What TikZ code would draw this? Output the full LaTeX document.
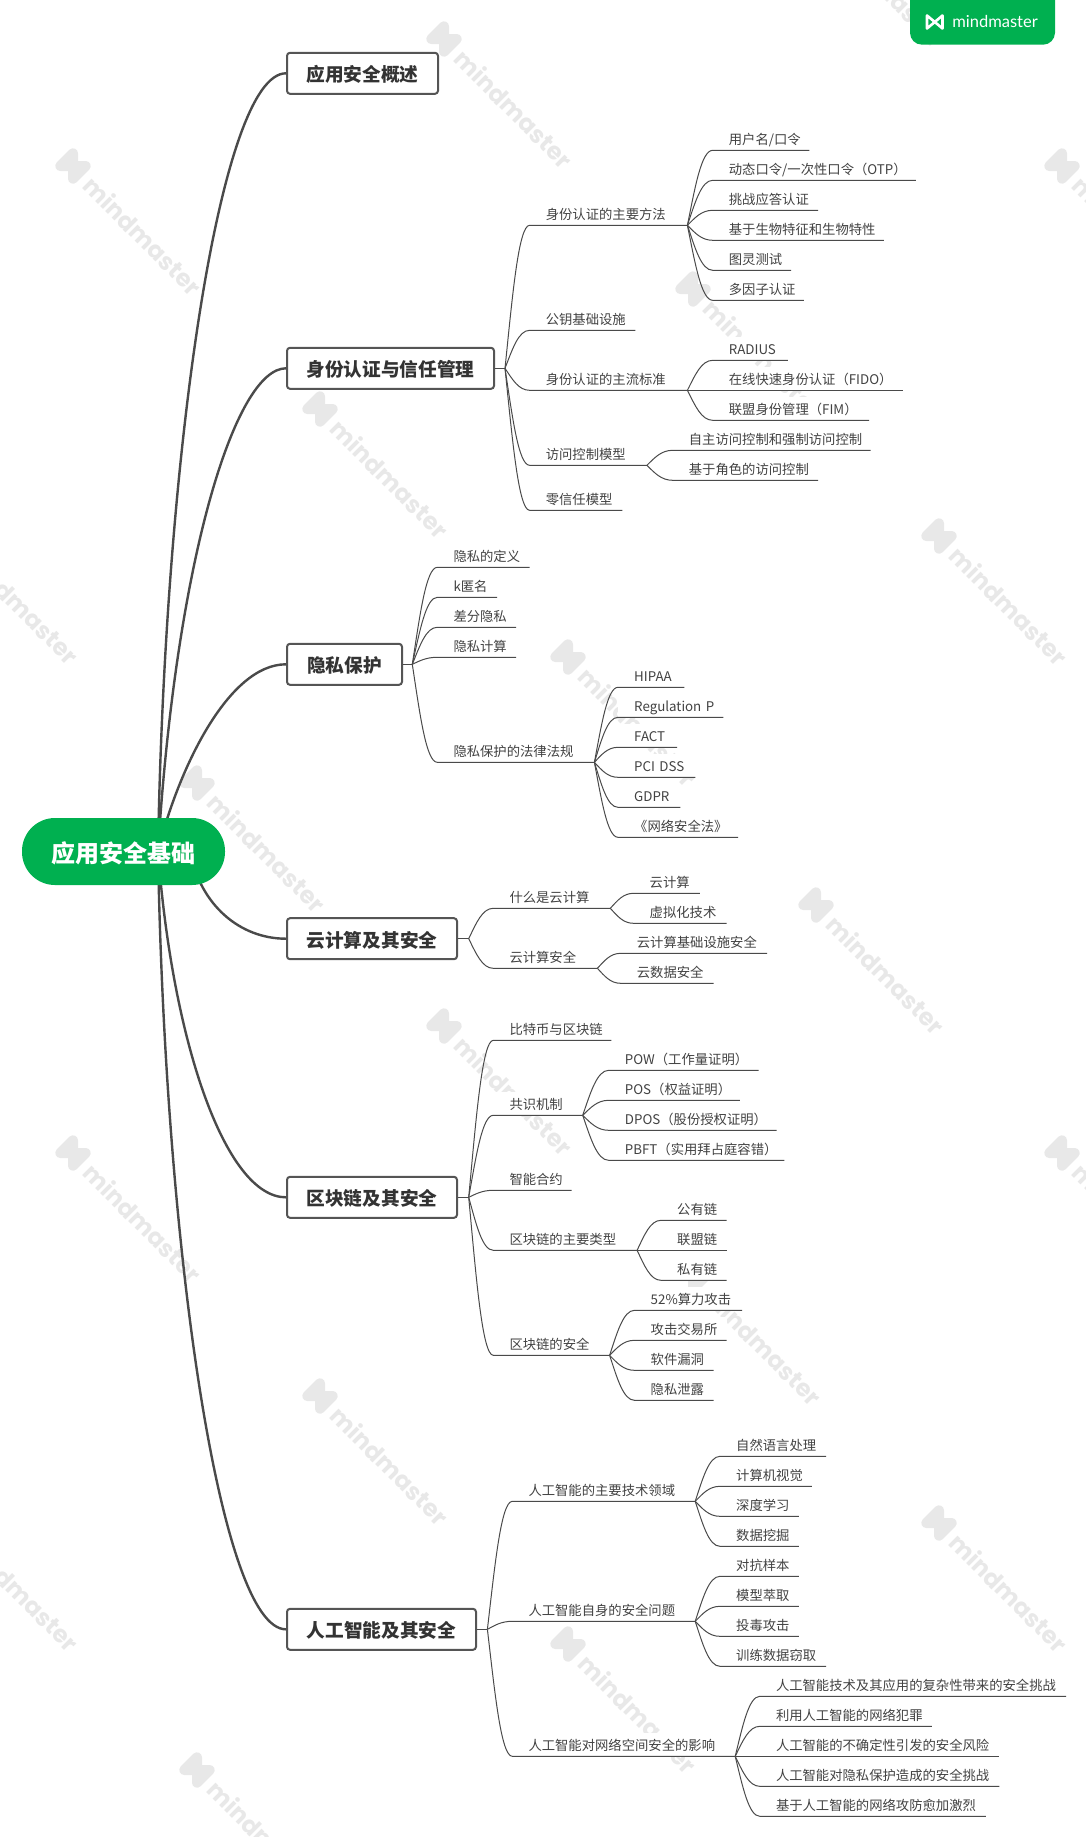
\documentclass[tikz,border=0pt]{standalone}
\usepackage{fontspec}
\setmainfont{Noto Sans CJK SC}
\newfontfamily\logofont{Lato}
\newfontfamily\markfont{Poppins}
\usetikzlibrary{calc}
\definecolor{brandgreen}{RGB}{0,176,80}
\definecolor{inkgray}{RGB}{51,51,51}
\definecolor{itemgray}{RGB}{66,66,66}
\definecolor{linegray}{RGB}{74,74,74}
\definecolor{boxgray}{RGB}{85,85,85}
\definecolor{markgray}{RGB}{232,232,232}
\tikzset{
	hubnode/.style={fill=brandgreen,rounded corners=33pt,minimum width=203pt,minimum height=67pt,inner sep=0pt,text=white,text height=25.6pt,text depth=2.9pt,font=\fontsize{24pt}{28pt}\selectfont\bfseries},
	topicnode/.style={draw=boxgray,line width=2pt,fill=white,rounded corners=3pt,minimum height=41pt,inner sep=0pt,text=inkgray,text height=18.8pt,text depth=2.2pt,font=\fontsize{18.67pt}{22pt}\selectfont\bfseries},
	itemnode/.style={anchor=south west,fill=white,inner sep=0pt,text height=17pt,text depth=6pt,align=left,text=itemgray,font=\fontsize{13.33pt}{16pt}\selectfont,execute at begin node={\hspace*{16pt}}},
	limb/.style={draw=linegray,line width=2.4pt},
	twig/.style={draw=linegray,line width=1pt},
	sprout/.style={to path={let \p1=(\tikztostart),\p2=(\tikztotarget) in .. controls ({\x1+0.3*(\x2-\x1)},{\y1+0.5*(\y2-\y1)}) and ({\x1+0.55*(\x2-\x1)},\y2) .. (\tikztotarget)}},
	wmk/.pic={
		\draw[markgray,line width=10pt,line join=round,line cap=round,rotate=-45] (-9,-9) -- (-9,9) -- (9,-9) -- (9,9) -- cycle;
		\node[rotate=-45,text=markgray,inner sep=0pt,font=\markfont\fontsize{24pt}{30pt}\selectfont\bfseries] (-t) at (70,70) {mindmaster};
	},
}
\begin{document}
\begin{tikzpicture}[x=1pt,y=-1pt]
	\useasboundingbox (0,0) rectangle (1086,1837);
	% watermark
	\pic (wa) at (73,166) {wmk};
	\pic (wb) at (444,39) {wmk};
	\pic (wc) at (1062,166) {wmk};
	\pic (wd) at (693,289) {wmk};
	\pic (we) at (320,409) {wmk};
	\pic (wf) at (939,536) {wmk};
	\pic (wg) at (-50,535) {wmk};
	\pic (wh) at (568,657) {wmk};
	\pic (wi) at (197,783) {wmk};
	\pic (wj) at (816,905) {wmk};
	\pic (wk) at (444,1026) {wmk};
	\pic (wl) at (73,1153) {wmk};
	\pic (wm) at (1062,1153) {wmk};
	\pic (wn) at (693,1276) {wmk};
	\pic (wo) at (320,1396) {wmk};
	\pic (wp) at (939,1523) {wmk};
	\pic (wq) at (-50,1522) {wmk};
	\pic (wr) at (568,1644) {wmk};
	\pic (ws) at (197,1770) {wmk};
	\pic (wt) at (816,-82) {wmk};
	% logo tab
	\fill[brandgreen,rounded corners=12pt] (910,-20) rectangle (1055,44.7);
	\draw[white,line width=2.6pt,line join=round] (927,15.5) -- (927,28.5) -- (942.5,15.5) -- (942.5,28.5) -- cycle;
	\node[text=white,inner sep=0pt,font=\logofont\fontsize{16.5pt}{18pt}\selectfont] (logo) at (995,21) {mindmaster};
	% first level
	\coordinate (hub) at (158,851);
	\coordinate (hubr) at (190,851);
	\node[topicnode,minimum width=151pt] (overview) at (362.5,73.3) {应用安全概述};
	\node[topicnode,minimum width=207pt] (identity) at (390.5,368.3) {身份认证与信任管理};
	\node[topicnode,minimum width=115pt] (privacy) at (344.5,664.3) {隐私保护};
	\node[topicnode,minimum width=170pt] (cloud) at (372,938.7) {云计算及其安全};
	\node[topicnode,minimum width=170pt] (chain) at (372,1197.3) {区块链及其安全};
	\node[topicnode,minimum width=189pt] (smart) at (381.5,1629.3) {人工智能及其安全};
	\coordinate (jid) at (505,368.3);
	\coordinate (jpr) at (412.3,664.3);
	\coordinate (jcl) at (468.7,938.7);
	\coordinate (jch) at (468.7,1197.3);
	\coordinate (jsm) at (487.4,1629.3);
	% identity
	\node[itemnode,text width=157.4pt] (idmeth) at (529.6,225.3) {身份认证的主要方法};
	\node[itemnode,text width=105.4pt] (idpki) at (529.6,330.3) {公钥基础设施};
	\node[itemnode,text width=157.4pt] (idstd) at (529.6,390.3) {身份认证的主流标准};
	\node[itemnode,text width=116.9pt] (idacl) at (529.6,465.3) {访问控制模型};
	\node[itemnode,text width=92.4pt] (idztr) at (529.6,510.3) {零信任模型};
	\node[itemnode,text width=96.3pt] (ma) at (712.7,150.3) {用户名/口令};
	\node[itemnode,text width=202.8pt] (mb) at (712.7,180.3) {动态口令/一次性口令（OTP）};
	\node[itemnode,text width=104.9pt] (mc) at (712.7,210.3) {挑战应答认证};
	\node[itemnode,text width=170.7pt] (md) at (712.7,240.3) {基于生物特征和生物特性};
	\node[itemnode,text width=78pt] (me) at (712.7,270.3) {图灵测试};
	\node[itemnode,text width=90.7pt] (mf) at (712.7,300.3) {多因子认证};
	\node[itemnode,text width=74.7pt] (sa) at (712.7,360.3) {RADIUS};
	\node[itemnode,text width=189.8pt] (sb) at (712.7,390.3) {在线快速身份认证（FIDO）};
	\node[itemnode,text width=156.1pt] (sc) at (712.7,420.3) {联盟身份管理（FIM）};
	\node[itemnode,text width=197.6pt] (aa) at (672.7,450.3) {自主访问控制和强制访问控制};
	\node[itemnode,text width=144.9pt] (ab) at (672.7,480.3) {基于角色的访问控制};
	% privacy
	\node[itemnode,text width=92pt] (prdef) at (437.3,567.3) {隐私的定义};
	\node[itemnode,text width=59.4pt] (prk) at (437.3,597.3) {k匿名};
	\node[itemnode,text width=78.4pt] (prdiff) at (437.3,627.3) {差分隐私};
	\node[itemnode,text width=78.4pt] (prcomp) at (437.3,657.3) {隐私计算};
	\node[itemnode,text width=156.7pt] (prlaw) at (437.3,762.3) {隐私保护的法律法规};
	\node[itemnode,text width=66pt] (la) at (618,687.3) {HIPAA};
	\node[itemnode,text width=105pt] (lb) at (618,717.3) {Regulation P};
	\node[itemnode,text width=58.7pt] (lc) at (618,747.3) {FACT};
	\node[itemnode,text width=77pt] (ld) at (618,777.3) {PCI DSS};
	\node[itemnode,text width=62pt] (le) at (618,807.3) {GDPR};
	\node[itemnode,text width=119.7pt] (lf) at (618,837.3) {《网络安全法》};
	% cloud
	\node[itemnode,text width=116.6pt] (clwhat) at (493.3,908.3) {什么是云计算};
	\node[itemnode,text width=103.7pt] (clsec) at (493.3,968.3) {云计算安全};
	\node[itemnode,text width=65.9pt] (wa1) at (633.5,893.3) {云计算};
	\node[itemnode,text width=92.8pt] (wa2) at (633.5,923.3) {虚拟化技术};
	\node[itemnode,text width=145.9pt] (sa1) at (620.7,953.3) {云计算基础设施安全};
	\node[itemnode,text width=92.5pt] (sa2) at (620.7,983.3) {云数据安全};
	% chain
	\node[itemnode,text width=117.7pt] (chbtc) at (493.3,1040.3) {比特币与区块链};
	\node[itemnode,text width=89pt] (chcon) at (493.3,1115.3) {共识机制};
	\node[itemnode,text width=78pt] (chsc) at (493.3,1190.3) {智能合约};
	\node[itemnode,text width=143.4pt] (chtype) at (493.3,1250.3) {区块链的主要类型};
	\node[itemnode,text width=115.9pt] (chsec) at (493.3,1355.3) {区块链的安全};
	\node[itemnode,text width=149.6pt] (ca) at (608.7,1070.3) {POW（工作量证明）};
	\node[itemnode,text width=130.7pt] (cb) at (608.7,1100.3) {POS（权益证明）};
	\node[itemnode,text width=167.5pt] (cc) at (608.7,1130.3) {DPOS（股份授权证明）};
	\node[itemnode,text width=175.3pt] (cd) at (608.7,1160.3) {PBFT（实用拜占庭容错）};
	\node[itemnode,text width=65.3pt] (ta) at (661,1220.3) {公有链};
	\node[itemnode,text width=65.3pt] (tb) at (661,1250.3) {联盟链};
	\node[itemnode,text width=65.3pt] (tc) at (661,1280.3) {私有链};
	\node[itemnode,text width=107.3pt] (ha) at (634.5,1310.3) {52\%算力攻击};
	\node[itemnode,text width=91.8pt] (hb) at (634.5,1340.3) {攻击交易所};
	\node[itemnode,text width=78.7pt] (hc) at (634.5,1370.3) {软件漏洞};
	\node[itemnode,text width=78.7pt] (hd) at (634.5,1400.3) {隐私泄露};
	% smart
	\node[itemnode,text width=182.5pt] (aitech) at (512.3,1501.3) {人工智能的主要技术领域};
	\node[itemnode,text width=182.5pt] (aiself) at (512.3,1621.3) {人工智能自身的安全问题};
	\node[itemnode,text width=222.5pt] (aiimp) at (512.3,1756.3) {人工智能对网络空间安全的影响};
	\node[itemnode,text width=105.7pt] (ea) at (720,1456.3) {自然语言处理};
	\node[itemnode,text width=91.5pt] (eb) at (720,1486.3) {计算机视觉};
	\node[itemnode,text width=78.5pt] (ec) at (720,1516.3) {深度学习};
	\node[itemnode,text width=78.5pt] (ed) at (720,1546.3) {数据挖掘};
	\node[itemnode,text width=78.5pt] (fa) at (720,1576.3) {对抗样本};
	\node[itemnode,text width=78.5pt] (fb) at (720,1606.3) {模型萃取};
	\node[itemnode,text width=78.5pt] (fc) at (720,1636.3) {投毒攻击};
	\node[itemnode,text width=105.7pt] (fd) at (720,1666.3) {训练数据窃取};
	\node[itemnode,text width=306pt] (ga) at (759.8,1696.3) {人工智能技术及其应用的复杂性带来的安全挑战};
	\node[itemnode,text width=171.7pt] (gb) at (759.8,1726.3) {利用人工智能的网络犯罪};
	\node[itemnode,text width=239.1pt] (gc) at (759.8,1756.3) {人工智能的不确定性引发的安全风险};
	\node[itemnode,text width=239.1pt] (gd) at (759.8,1786.3) {人工智能对隐私保护造成的安全挑战};
	\node[itemnode,text width=225.7pt] (ge) at (759.8,1816.3) {基于人工智能的网络攻防愈加激烈};
	% limbs
	\draw[limb] (hub) .. controls (165,450) and (220,73.3) .. (overview.west);
	\draw[limb] (hub) .. controls (176,560) and (235,368.3) .. (identity.west);
	\draw[limb] (hub) .. controls (178,770) and (228,664.3) .. (privacy.west);
	\draw[limb] (hubr) .. controls (200,905) and (240,938.7) .. (cloud.west);
	\draw[limb] (hub) .. controls (172,1040) and (225,1197.3) .. (chain.west);
	\draw[limb] (hub) .. controls (165,1250) and (220,1629.3) .. (smart.west);
	\draw[twig] (identity.east) -- (jid);
	\draw[twig] (privacy.east) -- (jpr);
	\draw[twig] (cloud.east) -- (jcl);
	\draw[twig] (chain.east) -- (jch);
	\draw[twig] (smart.east) -- (jsm);
	% twigs
	\draw[twig] (jid) to[sprout] (idmeth.south west) -- (idmeth.south east);
	\draw[twig] (jid) to[sprout] (idpki.south west) -- (idpki.south east);
	\draw[twig] (jid) to[sprout] (idstd.south west) -- (idstd.south east);
	\draw[twig] (jid) to[sprout] (idacl.south west) -- (idacl.south east);
	\draw[twig] (jid) to[sprout] (idztr.south west) -- (idztr.south east);
	\draw[twig] (idmeth.south east) to[sprout] (ma.south west) -- (ma.south east);
	\draw[twig] (idmeth.south east) to[sprout] (mb.south west) -- (mb.south east);
	\draw[twig] (idmeth.south east) to[sprout] (mc.south west) -- (mc.south east);
	\draw[twig] (idmeth.south east) to[sprout] (md.south west) -- (md.south east);
	\draw[twig] (idmeth.south east) to[sprout] (me.south west) -- (me.south east);
	\draw[twig] (idmeth.south east) to[sprout] (mf.south west) -- (mf.south east);
	\draw[twig] (idstd.south east) to[sprout] (sa.south west) -- (sa.south east);
	\draw[twig] (idstd.south east) to[sprout] (sb.south west) -- (sb.south east);
	\draw[twig] (idstd.south east) to[sprout] (sc.south west) -- (sc.south east);
	\draw[twig] (idacl.south east) to[sprout] (aa.south west) -- (aa.south east);
	\draw[twig] (idacl.south east) to[sprout] (ab.south west) -- (ab.south east);
	\draw[twig] (jpr) to[sprout] (prdef.south west) -- (prdef.south east);
	\draw[twig] (jpr) to[sprout] (prk.south west) -- (prk.south east);
	\draw[twig] (jpr) to[sprout] (prdiff.south west) -- (prdiff.south east);
	\draw[twig] (jpr) to[sprout] (prcomp.south west) -- (prcomp.south east);
	\draw[twig] (jpr) to[sprout] (prlaw.south west) -- (prlaw.south east);
	\draw[twig] (prlaw.south east) to[sprout] (la.south west) -- (la.south east);
	\draw[twig] (prlaw.south east) to[sprout] (lb.south west) -- (lb.south east);
	\draw[twig] (prlaw.south east) to[sprout] (lc.south west) -- (lc.south east);
	\draw[twig] (prlaw.south east) to[sprout] (ld.south west) -- (ld.south east);
	\draw[twig] (prlaw.south east) to[sprout] (le.south west) -- (le.south east);
	\draw[twig] (prlaw.south east) to[sprout] (lf.south west) -- (lf.south east);
	\draw[twig] (jcl) to[sprout] (clwhat.south west) -- (clwhat.south east);
	\draw[twig] (jcl) to[sprout] (clsec.south west) -- (clsec.south east);
	\draw[twig] (clwhat.south east) to[sprout] (wa1.south west) -- (wa1.south east);
	\draw[twig] (clwhat.south east) to[sprout] (wa2.south west) -- (wa2.south east);
	\draw[twig] (clsec.south east) to[sprout] (sa1.south west) -- (sa1.south east);
	\draw[twig] (clsec.south east) to[sprout] (sa2.south west) -- (sa2.south east);
	\draw[twig] (jch) to[sprout] (chbtc.south west) -- (chbtc.south east);
	\draw[twig] (jch) to[sprout] (chcon.south west) -- (chcon.south east);
	\draw[twig] (jch) to[sprout] (chsc.south west) -- (chsc.south east);
	\draw[twig] (jch) to[sprout] (chtype.south west) -- (chtype.south east);
	\draw[twig] (jch) to[sprout] (chsec.south west) -- (chsec.south east);
	\draw[twig] (chcon.south east) to[sprout] (ca.south west) -- (ca.south east);
	\draw[twig] (chcon.south east) to[sprout] (cb.south west) -- (cb.south east);
	\draw[twig] (chcon.south east) to[sprout] (cc.south west) -- (cc.south east);
	\draw[twig] (chcon.south east) to[sprout] (cd.south west) -- (cd.south east);
	\draw[twig] (chtype.south east) to[sprout] (ta.south west) -- (ta.south east);
	\draw[twig] (chtype.south east) to[sprout] (tb.south west) -- (tb.south east);
	\draw[twig] (chtype.south east) to[sprout] (tc.south west) -- (tc.south east);
	\draw[twig] (chsec.south east) to[sprout] (ha.south west) -- (ha.south east);
	\draw[twig] (chsec.south east) to[sprout] (hb.south west) -- (hb.south east);
	\draw[twig] (chsec.south east) to[sprout] (hc.south west) -- (hc.south east);
	\draw[twig] (chsec.south east) to[sprout] (hd.south west) -- (hd.south east);
	\draw[twig] (jsm) to[sprout] (aitech.south west) -- (aitech.south east);
	\draw[twig] (jsm) to[sprout] (aiself.south west) -- (aiself.south east);
	\draw[twig] (jsm) to[sprout] (aiimp.south west) -- (aiimp.south east);
	\draw[twig] (aitech.south east) to[sprout] (ea.south west) -- (ea.south east);
	\draw[twig] (aitech.south east) to[sprout] (eb.south west) -- (eb.south east);
	\draw[twig] (aitech.south east) to[sprout] (ec.south west) -- (ec.south east);
	\draw[twig] (aitech.south east) to[sprout] (ed.south west) -- (ed.south east);
	\draw[twig] (aiself.south east) to[sprout] (fa.south west) -- (fa.south east);
	\draw[twig] (aiself.south east) to[sprout] (fb.south west) -- (fb.south east);
	\draw[twig] (aiself.south east) to[sprout] (fc.south west) -- (fc.south east);
	\draw[twig] (aiself.south east) to[sprout] (fd.south west) -- (fd.south east);
	\draw[twig] (aiimp.south east) to[sprout] (ga.south west) -- (ga.south east);
	\draw[twig] (aiimp.south east) to[sprout] (gb.south west) -- (gb.south east);
	\draw[twig] (aiimp.south east) to[sprout] (gc.south west) -- (gc.south east);
	\draw[twig] (aiimp.south east) to[sprout] (gd.south west) -- (gd.south east);
	\draw[twig] (aiimp.south east) to[sprout] (ge.south west) -- (ge.south east);
	% centre
	\node[hubnode] (root) at (123.5,851.5) {应用安全基础};
\end{tikzpicture}
\end{document}
